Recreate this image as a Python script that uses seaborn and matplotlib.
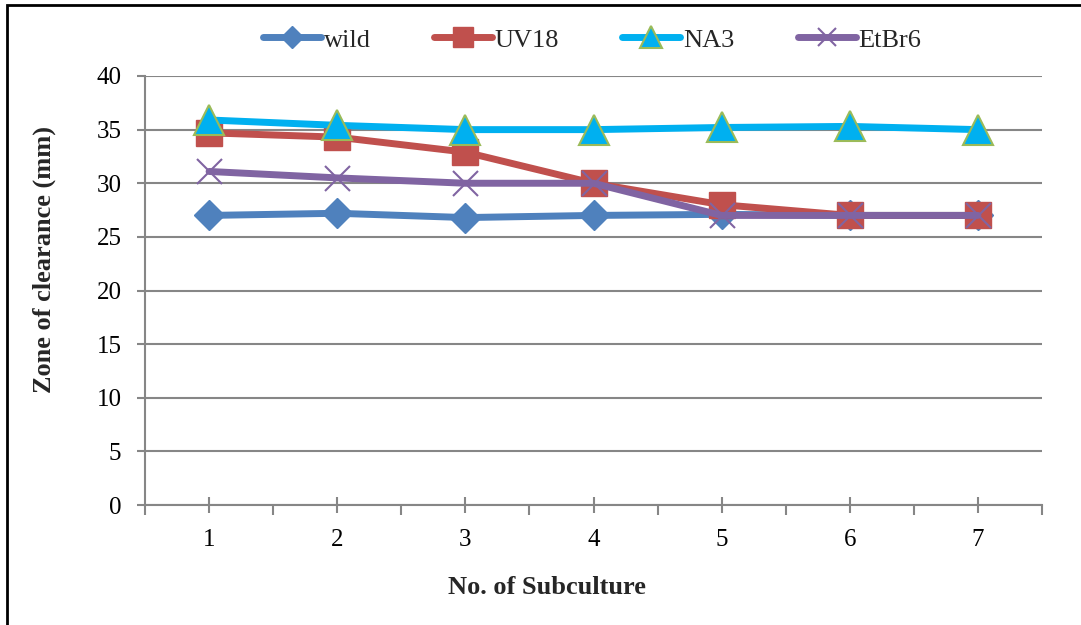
import matplotlib
matplotlib.use("Agg")
import matplotlib.pyplot as plt
import seaborn as sns
import pandas as pd
from matplotlib.patches import Rectangle
from matplotlib.ticker import MultipleLocator, FixedLocator

subculture = [1, 2, 3, 4, 5, 6, 7]
wild = [27.0, 27.2, 26.8, 27.0, 27.1, 27.0, 27.0]
uv18 = [34.7, 34.3, 32.9, 30.0, 28.0, 27.0, 27.0]
na3 = [35.9, 35.4, 35.0, 35.0, 35.2, 35.3, 35.0]
etbr6 = [31.1, 30.5, 30.0, 30.0, 27.0, 27.0, 27.0]
series_names = ["wild", "UV18", "NA3", "EtBr6"]

df = pd.DataFrame({"Subculture": subculture, "wild": wild, "UV18": uv18,
                   "NA3": na3, "EtBr6": etbr6})
long = df.melt(id_vars="Subculture", var_name="series", value_name="value")

sns.set_theme(style="white")
plt.rcParams["font.family"] = ["Liberation Serif", "DejaVu Serif"]

W, H = 1081, 625
fig = plt.figure(figsize=(W/100, H/100), dpi=100)
ax = fig.add_axes([145/W, 1-505/H, (1042-145)/W, (505-76)/H])

colors = {"wild": "#4F81BD", "UV18": "#C0504D", "NA3": "#00B0F0", "EtBr6": "#8064A2"}
styles = {
    "wild": dict(marker="D", markersize=15, markeredgecolor="#4F81BD", markerfacecolor="#4F81BD", markeredgewidth=1),
    "UV18": dict(marker="s", markersize=19, markeredgecolor="#C0504D", markerfacecolor="#C0504D", markeredgewidth=1),
    "NA3": dict(marker="^", markersize=21, markeredgecolor="#9BBB59", markerfacecolor="#00B0F0", markeredgewidth=1.5),
    "EtBr6": dict(marker="x", markersize=18, markeredgecolor="#8064A2", markeredgewidth=1.5),
}
for name in series_names:
    sub = long[long["series"] == name]
    sns.lineplot(data=sub, x="Subculture", y="value", ax=ax, color=colors[name],
                 linewidth=5, label=name, solid_capstyle="round", zorder=3,
                 **styles[name])

ax.set_xlim(0.5, 7.5)
ax.set_ylim(0, 40)
ax.yaxis.set_major_locator(MultipleLocator(5))
ax.xaxis.set_major_locator(FixedLocator(subculture))
ax.xaxis.set_minor_locator(FixedLocator([0.5 + i for i in range(8)]))
ax.grid(axis="y", color="#868686", linewidth=1.5, zorder=0)
ax.grid(axis="x", visible=False)
for s in ["top", "right"]:
    ax.spines[s].set_visible(False)
for s in ["left", "bottom"]:
    ax.spines[s].set_color("#868686")
    ax.spines[s].set_linewidth(1.5)
ax.tick_params(axis="y", which="major", direction="out", length=6, width=1.5,
               color="#868686", labelsize=18, pad=11, left=True)
ax.tick_params(axis="x", which="major", direction="inout", length=12, width=1.5,
               color="#868686", labelsize=18, pad=11, bottom=True)
ax.tick_params(axis="x", which="minor", direction="out", length=7, width=1.5,
               color="#868686", bottom=True)
for lab in ax.get_xticklabels() + ax.get_yticklabels():
    lab.set_color("black")

ax.set_xlabel("")
ax.set_ylabel("")
fig.text(547/W, 1-588/H, "No. of Subculture", fontsize=19, fontweight="bold",
         ha="center", va="center")
fig.text(44/W, 1-260/H, "Zone of clearance (mm)", fontsize=19, fontweight="bold",
         ha="center", va="center", rotation=90)

ax.legend(loc="center", bbox_to_anchor=(592/W, 1-40/H), bbox_transform=fig.transFigure,
          ncol=4, frameon=False, fontsize=19, handlelength=2.2, handletextpad=0.1,
          columnspacing=2.4, borderaxespad=0.0, borderpad=0.0, markerscale=0.75)

fig.add_artist(Rectangle((7/W, -0.05), 1.1, 1 - 5/H + 0.05, transform=fig.transFigure,
                         fill=False, edgecolor="black", linewidth=2))

fig.savefig("out.png", dpi=100)
